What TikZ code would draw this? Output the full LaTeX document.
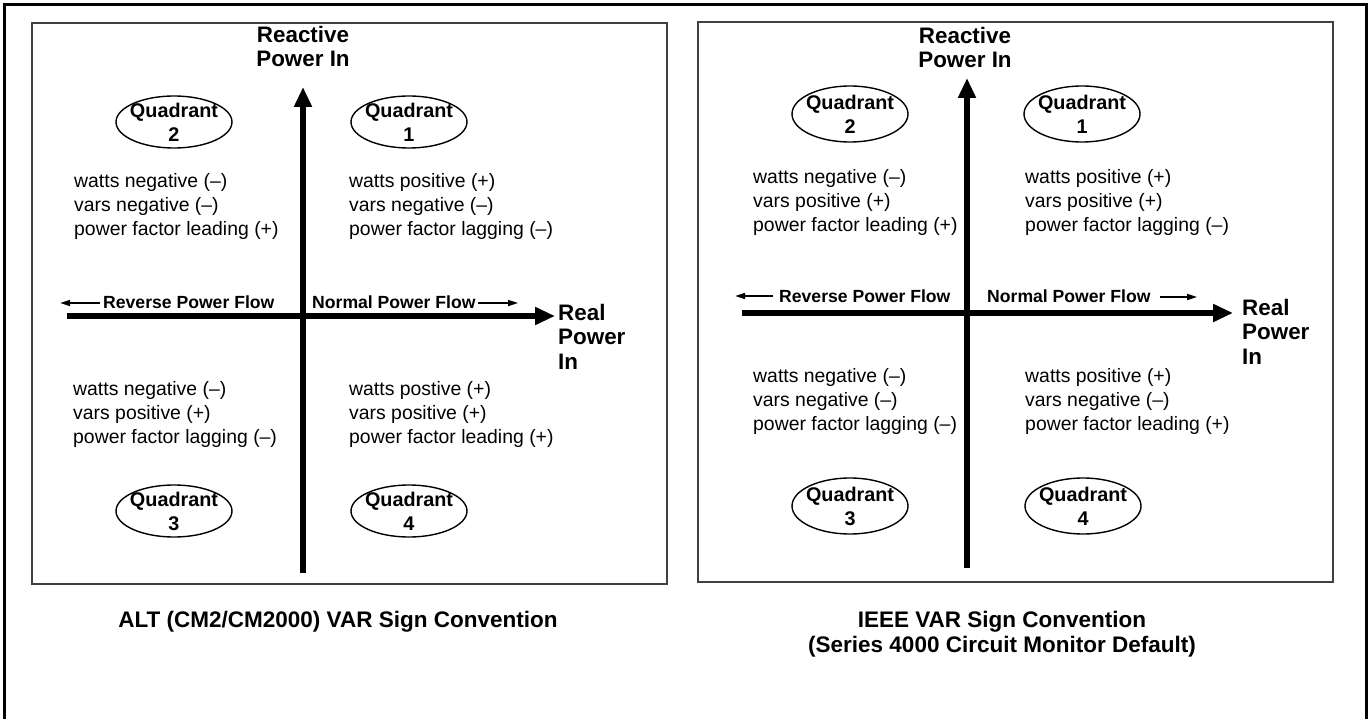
\documentclass[tikz,border=0pt]{standalone}
\usepackage{fontspec}
\setmainfont{Liberation Sans}
\usetikzlibrary{arrows.meta, shapes.geometric, positioning}

\tikzset{
	panel/.style={draw=black!75, line width=1.5pt},
	axis/.style={line width=6pt, -{Triangle[length=20pt, width=17pt]}},
	flow/.style={line width=1.6pt, -{Triangle[length=10pt, width=6pt]}},
	quad/.style={ellipse, draw, line width=1.4pt, align=center, inner xsep=-3pt,
		inner ysep=-1pt, minimum width=116pt, minimum height=52pt,
		font=\fontsize{19.8}{24}\selectfont\bfseries},
	info/.style={anchor=base west, align=left, inner sep=0pt,
		font=\fontsize{19.4}{24}\selectfont},
	axlabel/.style={anchor=base, align=center, inner sep=0pt,
		font=\fontsize{22.4}{24.5}\selectfont\bfseries},
	reallabel/.style={anchor=base west, align=left, inner sep=0pt,
		font=\fontsize{22.4}{24.5}\selectfont\bfseries},
	flowlabel/.style={anchor=base west, inner sep=0pt,
		font=\fontsize{17.6}{20}\selectfont\bfseries},
	caption/.style={anchor=base, align=center, inner sep=0pt,
		font=\fontsize{22.5}{25}\selectfont\bfseries}
}

\begin{document}
\begin{tikzpicture}[x=1pt, y=-1pt]
			\useasboundingbox (0,0) rectangle (1370,719);
			% Marco
			\draw[line width=3pt] (4.5,730) -- (4.5,4.5) -- (1366.5,4.5) -- (1366.5,730);

			% ALT
			\draw[panel] (32,23) rectangle (667,584);
			\coordinate (yLbot) at (303,573);
			\coordinate (yLtop) at (303,87);
			\coordinate (xLbeg) at (67,316);
			\coordinate (xLend) at (555,316);
			\draw[axis] (yLbot) -- (yLtop);
			\draw[axis] (xLbeg) -- (xLend);
			\node[axlabel] (reacL) at (303,67) {Reactive\\Power In};
			\node[reallabel] (realL) at (558,369) {Real\\Power\\In};

			\node[flowlabel] (revL) at (103,308) {Reverse Power Flow};
			\node[flowlabel] (normL) at (312,308) {Normal Power Flow};
			\coordinate (revLa) at (100,303);
			\coordinate (revLb) at (60,303);
			\coordinate (normLa) at (478,303);
			\coordinate (normLb) at (518,303);
			\draw[flow] (revLa) -- (revLb);
			\draw[flow] (normLa) -- (normLb);

			\node[quad] (q2L) at (174,122) {Quadrant\\2};
			\node[quad] (q1L) at (409,122) {Quadrant\\1};
			\node[quad] (q3L) at (174,511) {Quadrant\\3};
			\node[quad] (q4L) at (409,511) {Quadrant\\4};

			\node[info] (t2L) at (74,236) {watts negative (–)\\vars negative (–)\\power factor leading (+)};
			\node[info] (t1L) at (349,236) {watts positive (+)\\vars negative (–)\\power factor lagging (–)};
			\node[info] (t3L) at (73,443) {watts negative (–)\\vars positive (+)\\power factor lagging (–)};
			\node[info] (t4L) at (349,443) {watts postive (+)\\vars positive (+)\\power factor leading (+)};

			\node[caption] (capL) at (338,627) {ALT (CM2/CM2000) VAR Sign Convention};

			% IEEE
			\draw[panel] (698,22) rectangle (1333,582);
			\coordinate (yRbot) at (967,568);
			\coordinate (yRtop) at (967,78);
			\coordinate (xRbeg) at (742,313);
			\coordinate (xRend) at (1233,313);
			\draw[axis] (yRbot) -- (yRtop);
			\draw[axis] (xRbeg) -- (xRend);
			\node[axlabel] (reacR) at (965,68) {Reactive\\Power In};
			\node[reallabel] (realR) at (1242,364) {Real\\Power\\In};

			\node[flowlabel] (revR) at (779,302) {Reverse Power Flow};
			\node[flowlabel] (normR) at (987,302) {Normal Power Flow};
			\coordinate (revRa) at (773,296);
			\coordinate (revRb) at (735,296);
			\coordinate (normRa) at (1160,297);
			\coordinate (normRb) at (1197,297);
			\draw[flow] (revRa) -- (revRb);
			\draw[flow] (normRa) -- (normRb);

			\node[quad, minimum height=56pt] (q2R) at (850,114) {Quadrant\\2};
			\node[quad, minimum height=56pt] (q1R) at (1082,114) {Quadrant\\1};
			\node[quad, minimum height=56pt] (q3R) at (850,506) {Quadrant\\3};
			\node[quad, minimum height=56pt] (q4R) at (1083,506) {Quadrant\\4};

			\node[info] (t2R) at (753,232) {watts negative (–)\\vars positive (+)\\power factor leading (+)};
			\node[info] (t1R) at (1025,232) {watts positive (+)\\vars positive (+)\\power factor lagging (–)};
			\node[info] (t3R) at (753,430) {watts negative (–)\\vars negative (–)\\power factor lagging (–)};
			\node[info] (t4R) at (1025,430) {watts positive (+)\\vars negative (–)\\power factor leading (+)};

			\node[caption] (capR) at (1002,652) {IEEE VAR Sign Convention\\(Series 4000 Circuit Monitor Default)};
		\end{tikzpicture}
\end{document}
